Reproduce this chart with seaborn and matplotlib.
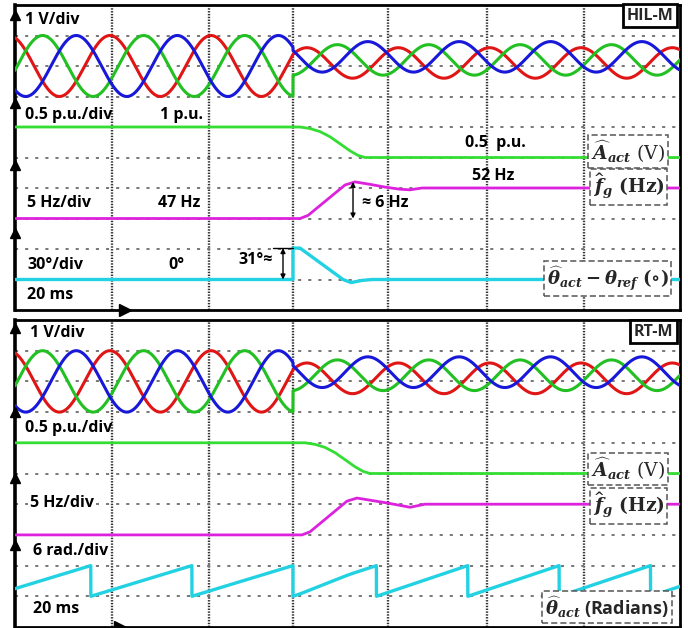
import numpy as np
import matplotlib
matplotlib.use('Agg')
import matplotlib.pyplot as plt
import seaborn as sns

sns.set_theme(style='white')
plt.rcParams['font.family'] = ['Open Sans', 'DejaVu Sans']
plt.rcParams['mathtext.fontset'] = 'custom'
plt.rcParams['mathtext.it'] = 'DejaVu Serif:italic:bold'
plt.rcParams['mathtext.rm'] = 'DejaVu Serif:bold'
plt.rcParams['mathtext.bf'] = 'DejaVu Serif:bold'

# ---------------- data ----------------
MS_PER_DIV = 20.0
F_PRE_HZ = 47.0
F_POST_HZ = 52.0
T_EVENT = 2.926           # division where the disturbance happens
PHASE_JUMP_DEG = 31.0

# three-phase voltages (divisions)
PHASE_COLORS = ['#e01515', '#22c022', '#1818d8']
PHASE_LAG_DEG = [0, 120, 240]
V_OFFSET_PRE = 8.0
V_AMP_PRE = 1.0
V_OFFSET_POST = [8.1, 8.2, 8.3]
V_AMP_POST = 0.5
RED_ANGLE_PRE_AT_EVENT = -68.0
RED_ANGLE_POST_AT_EVENT = -55.0

# amplitude estimate (1 p.u. -> 0.5 p.u.)
AMP_T_HIL = [0.0, 3.0, 3.105, 3.21, 3.316, 3.421, 3.526, 3.61, 3.684, 7.0]
AMP_Y_HIL = [6.0, 6.0, 5.95, 5.85, 5.68, 5.45, 5.22, 5.07, 5.0, 5.0]
AMP_T_RT = [0.0, 3.053, 3.158, 3.263, 3.368, 3.474, 3.579, 3.663, 3.737, 7.0]
AMP_Y_RT = [6.0, 6.0, 5.95, 5.85, 5.68, 5.45, 5.22, 5.07, 5.0, 5.0]

# frequency estimate (47 Hz -> 52 Hz)
FRQ_T_HIL = [0.0, 3.0, 3.084, 3.474, 3.579, 3.737, 3.895, 4.053, 4.158, 4.284, 7.0]
FRQ_Y_HIL = [3.0, 3.0, 3.1, 4.1, 4.2, 4.12, 4.03, 3.96, 3.94, 4.0, 4.0]
FRQ_T_RT = [0.0, 3.021, 3.105, 3.495, 3.6, 3.758, 3.916, 4.074, 4.158, 4.316, 7.0]
FRQ_Y_RT = [3.0, 3.0, 3.1, 4.1, 4.2, 4.12, 4.04, 3.95, 3.9, 4.0, 4.0]

# phase error (HIL-M), divisions (30 deg/div, zero at 1 div)
PERR_T = [0.0, 2.926, 2.926, 3.0, 3.453, 3.537, 3.653, 3.758, 7.0]
PERR_Y = [1.0, 1.0, 2.03, 2.03, 1.0, 0.9, 0.97, 1.0, 1.0]

GRID_X = [1.021, 2.042, 2.926, 3.926, 4.968, 5.989]
GRID_Y = [1, 2, 3, 4, 5, 6, 7, 8, 9]

# ---------------- derived signals ----------------
p_pre = 1000.0 / (F_PRE_HZ * MS_PER_DIV)
p_post = 1000.0 / (F_POST_HZ * MS_PER_DIV)
t_pre = np.linspace(0, T_EVENT, 2500)
t_post = np.linspace(T_EVENT, 7.0, 3500)
t_all = np.r_[t_pre, t_post]

volts = []
for lag, off_post in zip(PHASE_LAG_DEG, V_OFFSET_POST):
    a_pre = RED_ANGLE_PRE_AT_EVENT + 360 * (t_pre - T_EVENT) / p_pre - lag
    a_post = RED_ANGLE_POST_AT_EVENT + 360 * (t_post - T_EVENT) / p_post - lag
    v = np.r_[V_OFFSET_PRE + V_AMP_PRE * np.cos(np.radians(a_pre)),
              off_post + V_AMP_POST * np.cos(np.radians(a_post))]
    volts.append(v)

# theta_act sawtooth (6 rad/div, zero at 1 div)
err_deg = (np.interp(t_post, PERR_T[2:], PERR_Y[2:]) - 1.0) * 30.0
th_pre = np.mod(2 * np.pi * (t_pre - T_EVENT) / p_pre, 2 * np.pi)
th_pre[-1] = 2 * np.pi
th_post = np.mod(2 * np.pi * (t_post - T_EVENT) / p_post
                 + np.radians(PHASE_JUMP_DEG - err_deg), 2 * np.pi)
th_all = np.r_[th_pre, th_post]
saw = 1.0 + th_all / (2 * np.pi)

# ---------------- figure ----------------
fig = plt.figure(figsize=(6.88, 6.28), dpi=100)
W, H = 688, 628
ax_top = fig.add_axes([15 / W, 1 - 310 / H, 665 / W, 305 / H])
ax_bot = fig.add_axes([15 / W, 1 - 627 / H, 665 / W, 307 / H])

LBL = dict(fontsize=11.5, fontweight='bold', color='black', va='center', ha='left', zorder=6)
BOX = dict(boxstyle='square,pad=0.16', fc='white', ec='#555555', lw=1.1, ls=(0, (4, 2)))
MFS = 13.5


def frame(ax, arrows_y, xarrow, tag, tag_y):
    ax.set_xlim(0, 7)
    ax.set_ylim(0, 10)
    ax.set_xticks([])
    ax.set_yticks([])
    for s in ['top', 'right', 'bottom']:
        ax.spines[s].set_linewidth(2.0)
        ax.spines[s].set_color('black')
    ax.spines['left'].set_linewidth(2.6)
    ax.spines['left'].set_color('black')
    for gx in GRID_X:
        ax.axvline(gx, color='#333333', lw=1.7, ls=(0, (0.6, 0.6)), zorder=1)
    for gy in GRID_Y:
        ax.axhline(gy, color='#777777', lw=1.4, ls=(0, (1.6, 3.6)), zorder=1)
    ax.plot([0] * len(arrows_y), arrows_y, ls='none', marker='^', ms=7,
            color='black', clip_on=False, zorder=8)
    ax.plot([xarrow], [0], ls='none', marker='>', ms=8, color='black',
            clip_on=False, zorder=8)
    ax.text(6.93, tag_y, tag, fontsize=11.5, fontweight='bold', ha='right', va='center',
            zorder=9, bbox=dict(boxstyle='square,pad=0.22', fc='white', ec='black', lw=2))


def voltages(ax):
    for v, c in zip(volts, PHASE_COLORS):
        sns.lineplot(x=t_all, y=v, ax=ax, color=c, lw=2.2, estimator=None, sort=False, zorder=3)


# ---- top panel (HIL-M) ----
ax = ax_top
frame(ax, [9.67, 6.79, 4.75, 2.52], 1.16, 'HIL-M', 9.64)
voltages(ax)
sns.lineplot(x=AMP_T_HIL, y=AMP_Y_HIL, ax=ax, color='#33dd33', lw=2.0, estimator=None, sort=False, zorder=3)
sns.lineplot(x=FRQ_T_HIL, y=FRQ_Y_HIL, ax=ax, color='#dd22dd', lw=2.0, estimator=None, sort=False, zorder=3)
sns.lineplot(x=PERR_T, y=PERR_Y, ax=ax, color='#22d2e2', lw=2.4, estimator=None, sort=False, zorder=3)

ax.text(0.105, 9.5, '1 V/div', **LBL)
ax.text(0.105, 6.39, '0.5 p.u./div', **LBL)
ax.text(1.526, 6.39, '1 p.u.', **LBL)
ax.text(4.737, 5.48, '0.5  p.u.', **LBL)
ax.text(0.126, 3.51, '5 Hz/div', **LBL)
ax.text(1.505, 3.51, '47 Hz', **LBL)
ax.text(4.81, 4.39, '52 Hz', **LBL)
ax.text(3.653, 3.51, '≈ 6 Hz', **LBL)
ax.text(0.126, 1.48, '30°/div', **LBL)
ax.text(1.61, 1.48, '0°', **LBL)
ax.text(2.347, 1.64, '31°≈', **LBL)
ax.text(0.126, 0.49, '20 ms', **LBL)

ax.annotate('', xy=(2.821, 2.03), xytext=(2.821, 1.0),
            arrowprops=dict(arrowstyle='<|-|>', lw=1.0, color='black',
                            shrinkA=0, shrinkB=0, mutation_scale=7), zorder=6)
ax.plot([2.716, 2.926], [2.03, 2.03], color='black', lw=1.0, zorder=6)
ax.annotate('', xy=(3.558, 4.2), xytext=(3.558, 3.0),
            arrowprops=dict(arrowstyle='<|-|>', lw=1.0, color='black',
                            shrinkA=0, shrinkB=0, mutation_scale=7), zorder=6)

ax.text(6.453, 5.2, r'$\widehat{A}_{act}$ (V)', fontsize=MFS, family='DejaVu Serif',
        ha='center', va='center', zorder=7, bbox=BOX)
ax.text(6.458, 4.02, r'$\widehat{f}_{g}$ (Hz)', fontsize=MFS, family='DejaVu Serif',
        fontweight='bold', ha='center', va='center', zorder=7, bbox=BOX)
ax.text(6.237, 1.03, r'$\widehat{\theta}_{act}-\theta_{ref}$ $(\circ)$', fontsize=13,
        family='DejaVu Serif', ha='center', va='center', zorder=7, bbox=BOX)

# ---- bottom panel (RT-M) ----
ax = ax_bot
frame(ax, [9.74, 7.0, 4.85, 2.67], 1.1, 'RT-M', 9.61)
voltages(ax)
sns.lineplot(x=AMP_T_RT, y=AMP_Y_RT, ax=ax, color='#33dd33', lw=2.0, estimator=None, sort=False, zorder=3)
sns.lineplot(x=FRQ_T_RT, y=FRQ_Y_RT, ax=ax, color='#dd22dd', lw=2.0, estimator=None, sort=False, zorder=3)
sns.lineplot(x=t_all, y=saw, ax=ax, color='#22d2e2', lw=2.4, estimator=None, sort=False, zorder=3)

WB = dict(boxstyle='square,pad=0.1', fc='white', ec='none')
ax.text(0.158, 9.58, '1 V/div', **LBL)
ax.text(0.105, 6.48, '0.5 p.u./div', **LBL)
ax.text(0.158, 4.04, '5 Hz/div', bbox=WB, **LBL)
ax.text(0.19, 2.48, '6 rad./div', **LBL)
ax.text(0.19, 0.59, '20 ms', **LBL)

ax.text(6.453, 5.15, r'$\widehat{A}_{act}$ (V)', fontsize=MFS, family='DejaVu Serif',
        ha='center', va='center', zorder=7, bbox=BOX)
ax.text(6.458, 3.94, r'$\widehat{f}_{g}$ (Hz)', fontsize=MFS, family='DejaVu Serif',
        fontweight='bold', ha='center', va='center', zorder=7, bbox=BOX)
ax.text(6.232, 0.65, r'$\widehat{\theta}_{act}$ (Radians)', fontsize=13,
        fontweight='bold', ha='center', va='center', zorder=7, bbox=BOX)

fig.savefig('out.png', dpi=100, facecolor='white')
